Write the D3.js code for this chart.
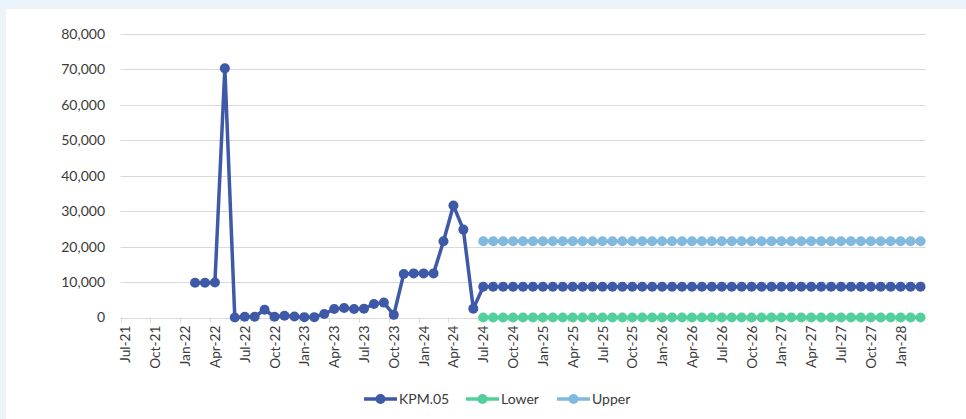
<!DOCTYPE html>
<html>
<head>
<meta charset="utf-8">
<script src="https://cdn.jsdelivr.net/npm/d3@7"></script>
<style>
  html, body { margin: 0; padding: 0; background: #ebf3fb; }
  svg { display: block; }
  text { font-family: Lato, "Open Sans", sans-serif; fill: #3a3a3a; }
</style>
</head>
<body>
<svg id="chart" width="966" height="419"></svg>
<script>
// Monthly categories, Jul-21 .. Mar-28
const months = ["Jan","Feb","Mar","Apr","May","Jun","Jul","Aug","Sep","Oct","Nov","Dec"];
const categories = [];
for (let yr = 2021, m = 6; !(yr === 2028 && m === 3); ) {
  categories.push(months[m] + "-" + String(yr).slice(2));
  m++; if (m === 12) { m = 0; yr++; }
}

// Actuals Feb-22 .. Jun-24, then projection Jul-24 .. Mar-28
const kpmActual = [
  9800, 9800, 9900, 70300, 0, 200, 200, 2200, 200, 500, 300, 100,
  100, 1000, 2400, 2700, 2400, 2500, 3800, 4200, 750, 12300, 12450, 12450,
  12450, 21500, 31600, 24800, 2500
];
const kpmStart = "Feb-22";
const forecastStart = "Jul-24";
const kpmForecast = 8700;
const lowerValue = 0;
const upperValue = 21500;

const yTicks = [0, 10000, 20000, 30000, 40000, 50000, 60000, 70000, 80000];

const seriesNames = ["KPM.05", "Lower", "Upper"];
const seriesColors = ["#3d59a8", "#52cf9b", "#82b9de"];

// Build series arrays aligned to categories
const kpm = categories.map(() => null);
const lower = categories.map(() => null);
const upper = categories.map(() => null);
const i0 = categories.indexOf(kpmStart);
kpmActual.forEach((v, i) => { kpm[i0 + i] = v; });
const f0 = categories.indexOf(forecastStart);
for (let i = f0; i < categories.length; i++) {
  kpm[i] = kpmForecast; lower[i] = lowerValue; upper[i] = upperValue;
}
const seriesData = [kpm, lower, upper];

const svg = d3.select("#chart");
svg.append("rect").attr("x", 6).attr("y", 9).attr("width", 960).attr("height", 410).attr("fill", "#ffffff");

const plot = { left: 120.5, right: 925.5, top: 34, bottom: 317.5 };

const x = d3.scaleBand().domain(categories).range([plot.left, plot.right]);
const y = d3.scaleLinear().domain([0, 80000]).range([plot.bottom, plot.top]);

// Gridlines
svg.append("g").selectAll("line").data(yTicks).join("line")
  .attr("x1", plot.left).attr("x2", plot.right)
  .attr("y1", d => Math.round(y(d)) + 0.5).attr("y2", d => Math.round(y(d)) + 0.5)
  .attr("stroke", "#d9d9d9").attr("stroke-width", 1);

// Y axis labels
const yAxis = d3.axisLeft(y).tickValues(yTicks).tickSize(0).tickPadding(0)
  .tickFormat(d3.format(","));
svg.append("g").attr("transform", `translate(105,0)`).call(yAxis)
  .call(g => g.select(".domain").remove())
  .call(g => g.selectAll("text").attr("font-size", 14).style("fill", "#3a3a3a")
    .attr("font-family", "Lato, sans-serif"));

// X axis: ticks at category boundaries every 3 months
const labelCats = categories.filter((c, i) => i % 3 === 0);
const gx = svg.append("g");
gx.append("line").attr("x1", plot.left).attr("x2", plot.right)
  .attr("y1", Math.round(plot.bottom) + 0.5).attr("y2", Math.round(plot.bottom) + 0.5)
  .attr("stroke", "#d9d9d9");
gx.selectAll("line.tick").data(labelCats).join("line").attr("class", "tick")
  .attr("x1", d => Math.round(x(d)) + 0.5).attr("x2", d => Math.round(x(d)) + 0.5)
  .attr("y1", plot.bottom).attr("y2", plot.bottom + 5)
  .attr("stroke", "#d9d9d9");
gx.selectAll("text").data(labelCats).join("text")
  .attr("transform", d => `translate(${x(d) + x.bandwidth() / 2 + 5},${plot.bottom + 8}) rotate(-90)`)
  .attr("text-anchor", "end")
  .attr("font-size", 13.7)
  .text(d => d);

// Series lines and markers
const line = d3.line()
  .defined(d => d.v !== null)
  .x(d => x(d.c) + x.bandwidth() / 2)
  .y(d => y(d.v));

seriesData.forEach((data, si) => {
  const pts = categories.map((c, i) => ({ c, v: data[i] }));
  const g = svg.append("g");
  g.append("path").datum(pts).attr("d", line)
    .attr("fill", "none").attr("stroke", seriesColors[si])
    .attr("stroke-width", 3.5).attr("stroke-linejoin", "round");
  g.selectAll("circle").data(pts.filter(d => d.v !== null)).join("circle")
    .attr("cx", d => x(d.c) + x.bandwidth() / 2)
    .attr("cy", d => y(d.v))
    .attr("r", 5)
    .attr("fill", seriesColors[si]);
});

// Legend
const legendX = [364, 466, 557];
const legend = svg.append("g").attr("transform", "translate(0,399)");
seriesNames.forEach((name, i) => {
  const g = legend.append("g").attr("transform", `translate(${legendX[i]},0)`);
  g.append("line").attr("x1", 0).attr("x2", 33).attr("stroke", seriesColors[i]).attr("stroke-width", 3.5);
  g.append("circle").attr("cx", 16.5).attr("r", 5).attr("fill", seriesColors[i]);
  g.append("text").attr("x", 35).attr("dy", "0.35em").attr("font-size", 14).text(name);
});
</script>
</body>
</html>
